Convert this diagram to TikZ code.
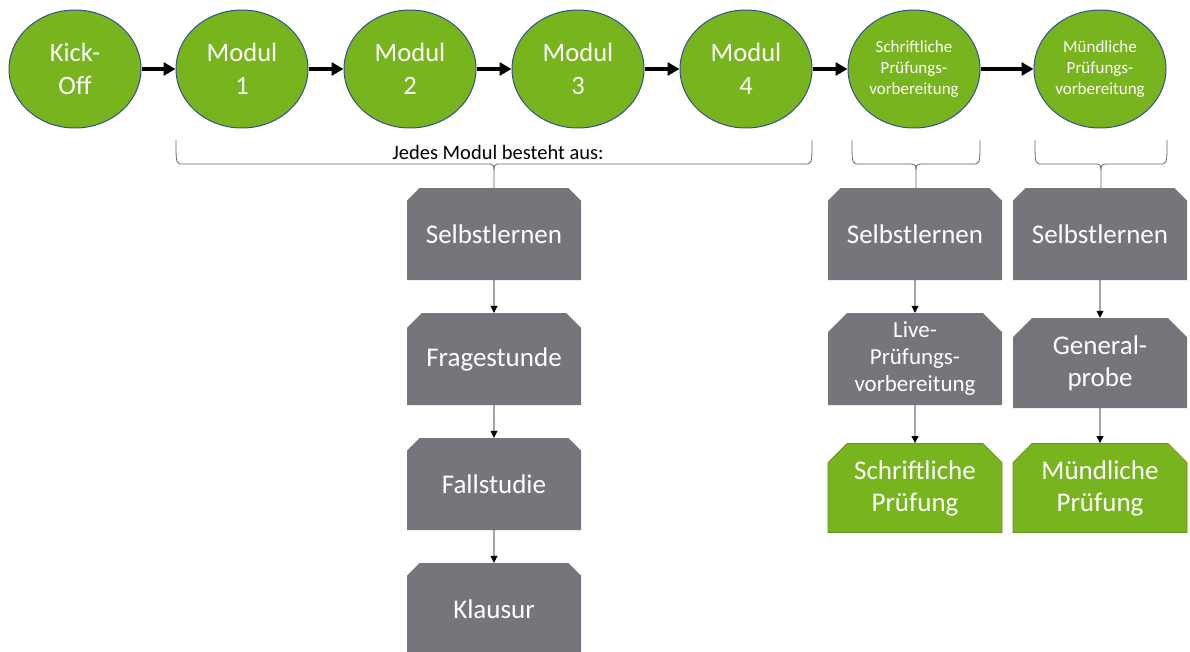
\documentclass[tikz,border=0pt]{standalone}
\usepackage{fontspec}
\setmainfont{Carlito}
\usetikzlibrary{arrows.meta,shapes.geometric,shapes.misc}
\definecolor{kursgruen}{RGB}{120,180,30}
\definecolor{kursgrau}{RGB}{118,117,124}
\definecolor{randblau}{RGB}{47,82,143}
\definecolor{randgruen}{RGB}{96,146,26}
\begin{document}
\begin{tikzpicture}[x=1pt,y=-1pt,
    etappe/.style={ellipse,draw=randblau,line width=1pt,fill=kursgruen,text=white,
      minimum width=132pt,minimum height=118pt,inner sep=0pt,align=center,
      font=\fontsize{26.5}{33}\selectfont},
    klein/.style={font=\fontsize{17}{21}\selectfont},
    baustein/.style={chamfered rectangle,chamfered rectangle corners={north west,north east},
      chamfered rectangle xsep=16pt,fill=kursgrau,text=white,
      minimum width=174pt,minimum height=92pt,inner sep=0pt,align=center,
      font=\fontsize{27}{32}\selectfont},
    pruefung/.style={baustein,fill=kursgruen,draw=randgruen,line width=0.8pt,minimum height=89pt},
    weiter/.style={-{Triangle[length=12pt,width=13pt]},line width=3.5pt},
    folgt/.style={-{Triangle[length=7pt,width=7pt]},line width=0.8pt},
    klammer/.style={draw=black!60,line width=0.8pt}]
  \useasboundingbox (0,0) rectangle (1190,651);
  \path
    (75,69) node[etappe] (ko){Kick-\\Off}
    (242,69) node[etappe] (m1){Modul\\1}
    (410,69) node[etappe] (m2){Modul\\2}
    (578,69) node[etappe] (m3){Modul\\3}
    (746,69) node[etappe] (m4){Modul\\4}
    (914,69) node[etappe,klein] (sv){Schriftliche\\Prüfungs-\\vorbereitung}
    (1100,69) node[etappe,klein] (mv){Mündliche\\Prüfungs-\\vorbereitung};
  \begin{scope}[weiter]
    \draw (ko) to (m1);
    \draw (m1) to (m2);
    \draw (m2) to (m3);
    \draw (m3) to (m4);
    \draw (m4) to (sv);
    \draw (sv) to (mv);
  \end{scope}
  \foreach \a/\m/\b in {176/494/812,852/916/980,1035/1101/1167}
    \draw[klammer] (\a,140) .. controls (\a,164) .. (\a+7,164) -- (\m-6,164)
      .. controls (\m,164) .. (\m,177) -- (\m,188)
      (\m,177) .. controls (\m,164) .. (\m+6,164) -- (\b-7,164)
      .. controls (\b,164) .. (\b,140);
  \node[anchor=base,font=\fontsize{20.5}{24}\selectfont] (jm) at (498,159) {Jedes Modul besteht aus:};
  \path
    (494,234) node[baustein] (s1){Selbstlernen}
    (494,359) node[baustein] (fs){Fragestunde}
    (494,484) node[baustein] (fa){Fallstudie}
    (494,609) node[baustein] (kl){Klausur}
    (915,234) node[baustein] (s2){Selbstlernen}
    (915,359) node[baustein,font=\fontsize{23}{27}\selectfont] (lp){Live-\\Prüfungs-\\vorbereitung}
    (915,488) node[pruefung] (sp){Schriftliche\\Prüfung}
    (1100,234) node[baustein] (s3){Selbstlernen}
    (1100,363) node[baustein,minimum height=90pt] (gp){General-\\probe}
    (1100,488) node[pruefung] (mp){Mündliche\\Prüfung};
  \begin{scope}[folgt]
    \draw (s1) to (fs);
    \draw (fs) to (fa);
    \draw (fa) to (kl);
    \draw (s2) to (lp);
    \draw (lp) to (sp);
    \draw (s3) to (gp);
    \draw (gp) to (mp);
  \end{scope}
\end{tikzpicture}
\end{document}
